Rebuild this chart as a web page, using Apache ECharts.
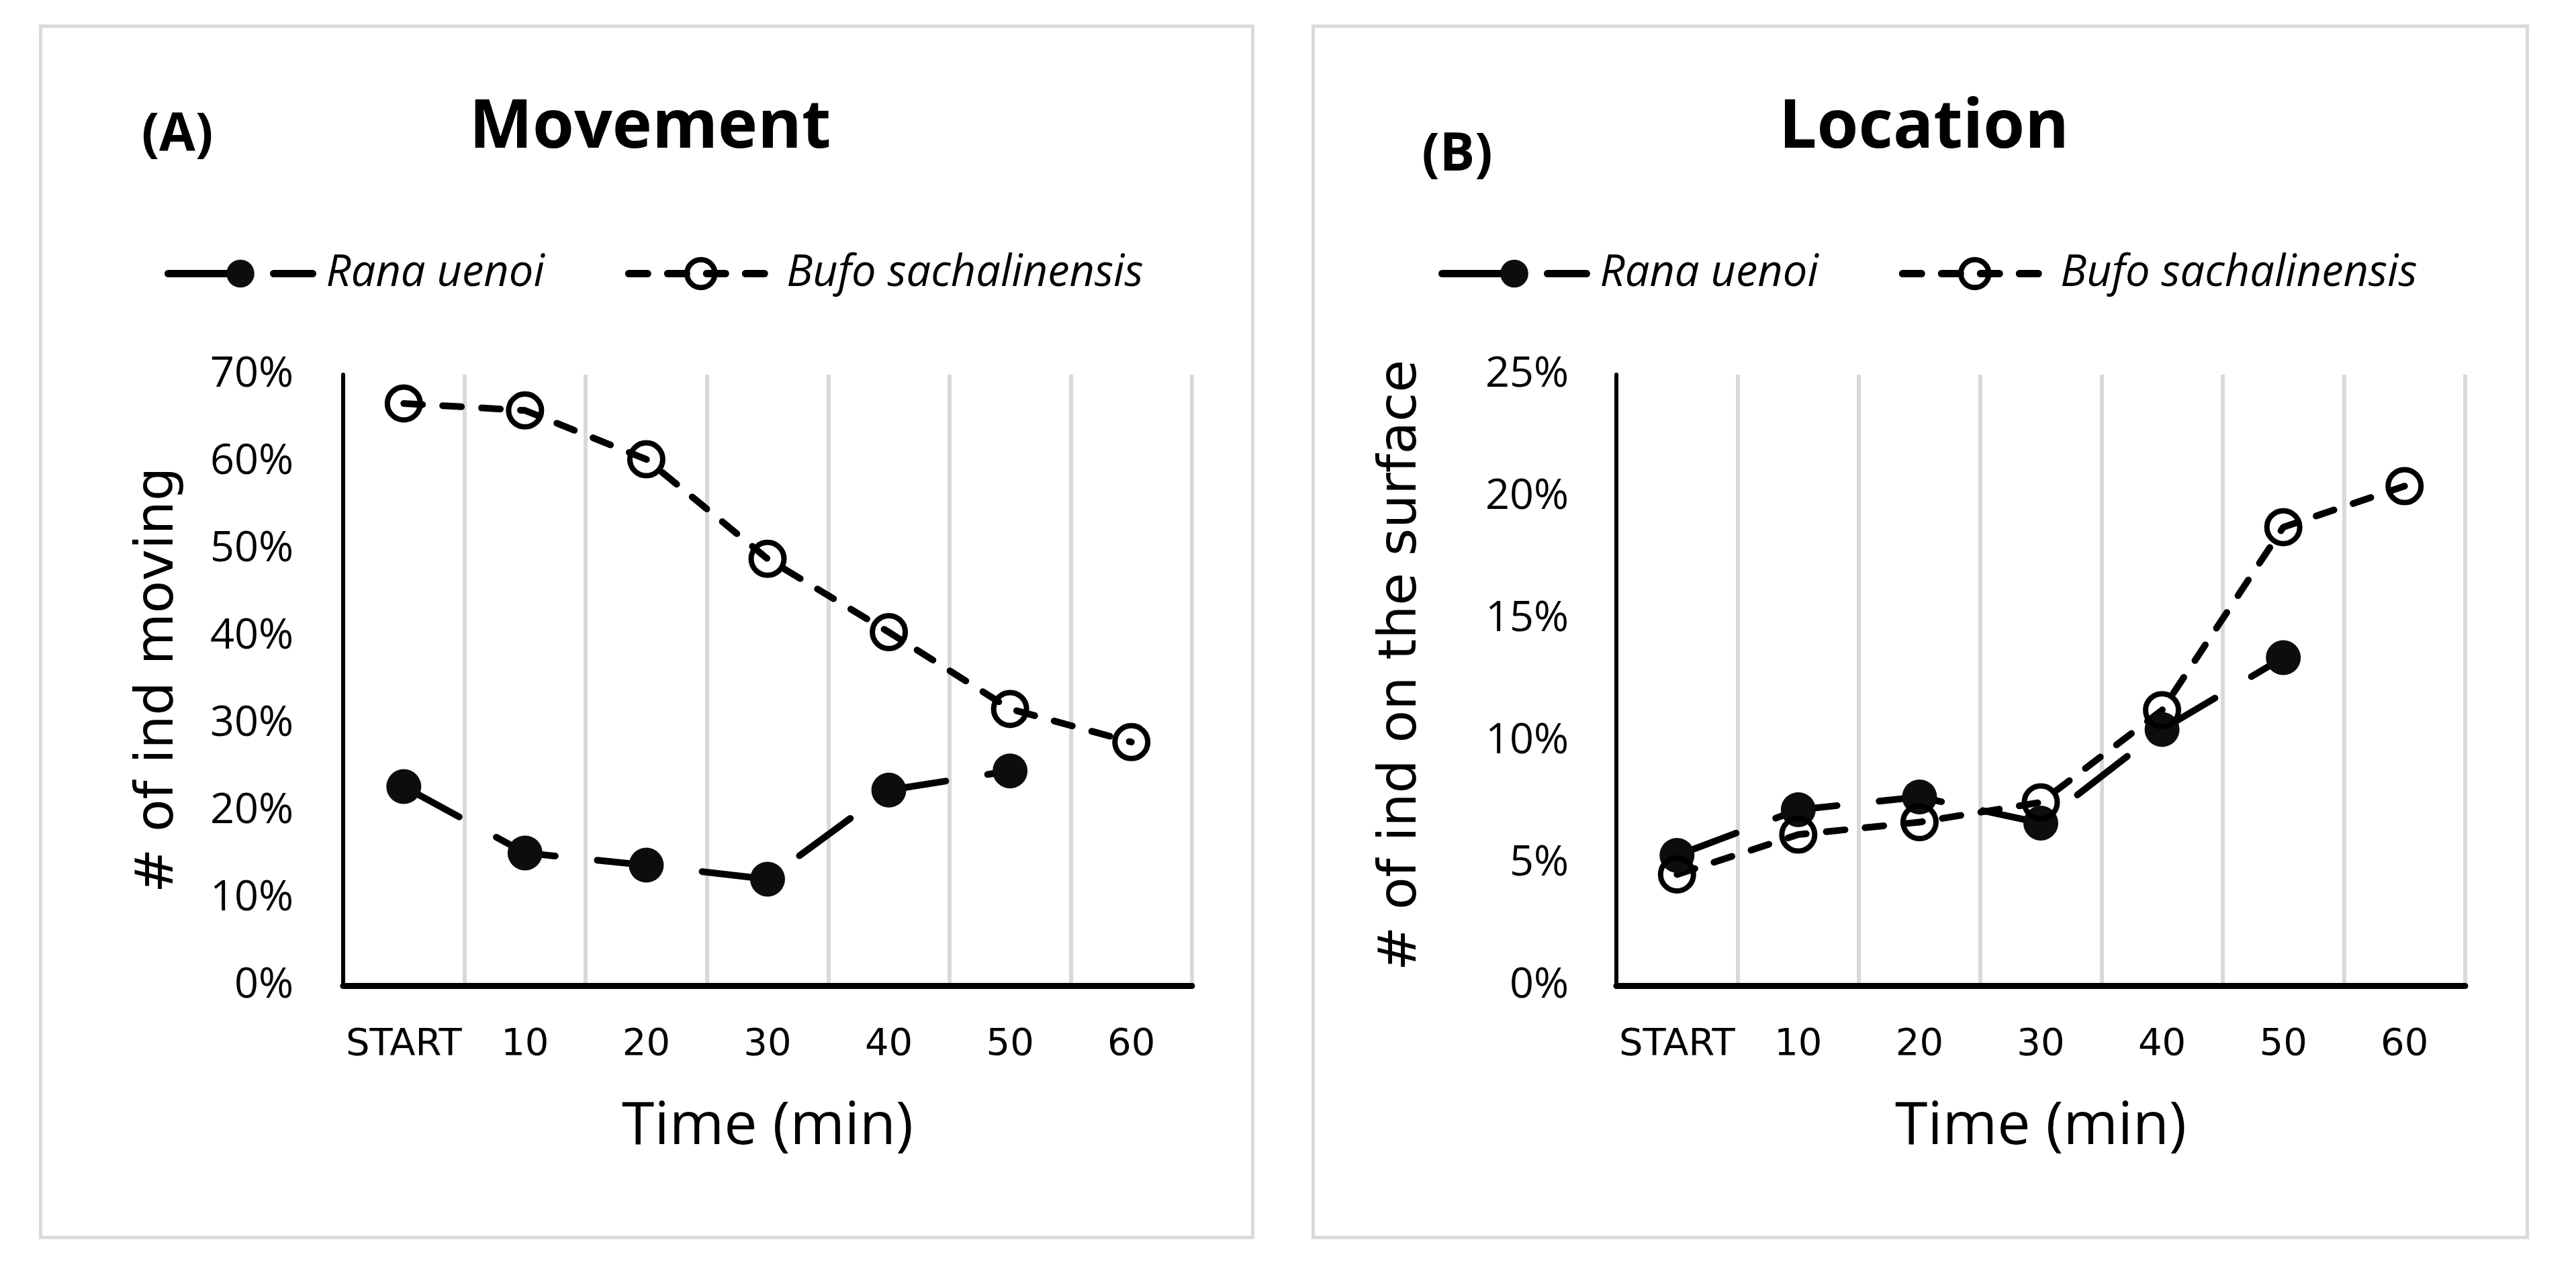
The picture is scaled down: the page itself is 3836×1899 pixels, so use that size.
<!DOCTYPE html>
<html>
<head>
<meta charset="utf-8">
<script src="https://cdn.jsdelivr.net/npm/echarts@6/dist/echarts.min.js"></script>
<style>
html,body{margin:0;padding:0;background:#fff;}
#chart{width:3836px;height:1899px;}
</style>
</head>
<body>
<div id="chart"></div>
<script>
// ---- data ----
const categories = ['START', '10', '20', '30', '40', '50', '60'];
const seriesNames = ['Rana uenoi', 'Bufo sachalinensis'];
// Panel A: Movement (% of individuals moving)
const ranaMovement = [22.8, 15.2, 13.8, 12.2, 22.4, 24.6, null];
const bufoMovement = [66.7, 65.9, 60.3, 48.9, 40.5, 31.7, 27.9];
// Panel B: Location (% of individuals on the surface)
const ranaLocation = [5.33, 7.2, 7.72, 6.65, 10.48, 13.42, null];
const bufoLocation = [4.55, 6.18, 6.69, 7.5, 11.27, 18.76, 20.44];
// axis ranges
const movementAxis = {min: 0, max: 70, interval: 10};
const locationAxis = {min: 0, max: 25, interval: 5};
const panelTitles = ['Movement', 'Location'];
const panelLetters = ['(A)', '(B)'];
const xAxisTitle = 'Time (min)';
const yAxisTitles = ['# of ind moving', '# of ind on the surface'];

// ---- styles ----
const GRID_TOP = 558, GRID_H = 910, GRID_W = 1264;
const gridLefts = [511, 2407];

function xAxis(i) {
  return {
    type: 'category', gridIndex: i, data: categories, boundaryGap: true,
    axisLine: {show: true, lineStyle: {color: '#000', width: 9}},
    axisTick: {show: false},
    axisLabel: {color: '#000', fontFamily: 'DejaVu Sans', fontSize: 56, margin: 60, interval: 0},
    splitLine: {show: true, lineStyle: {color: '#d9d9d9', width: 6}},
    name: xAxisTitle, nameLocation: 'middle', nameGap: 167,
    nameTextStyle: {color: '#000', fontFamily: 'Open Sans', fontSize: 88}
  };
}
function yAxis(i, rng, gap, labelMargin, pad) {
  return {
    type: 'value', gridIndex: i, min: rng.min, max: rng.max, interval: rng.interval,
    axisLine: {show: true, lineStyle: {color: '#000', width: 6}},
    axisTick: {show: false},
    splitLine: {show: false},
    axisLabel: {color: '#000', fontFamily: 'Open Sans', fontSize: 63, margin: labelMargin, formatter: '{value}%'},
    name: yAxisTitles[i], nameLocation: 'middle', nameRotate: 90, nameGap: gap,
    nameTextStyle: {color: '#000', fontFamily: 'DejaVu Sans', fontSize: 79, padding: pad}
  };
}
function ranaSeries(i, data) {
  return {
    name: seriesNames[0], type: 'line', xAxisIndex: i, yAxisIndex: i, data: data,
    symbol: 'circle', symbolSize: 52, connectNulls: false,
    itemStyle: {color: '#0d0d0d'},
    lineStyle: {color: '#000', width: 10, type: [94, 63], cap: 'round'},
    emphasis: {disabled: true}
  };
}
function bufoSeries(i, data) {
  return {
    name: seriesNames[1], type: 'line', xAxisIndex: i, yAxisIndex: i, data: data,
    symbol: 'circle', symbolSize: 49,
    itemStyle: {color: 'rgba(255,255,255,0)', borderColor: '#000', borderWidth: 8},
    lineStyle: {color: '#000', width: 10, type: [28, 30], cap: 'round'},
    emphasis: {disabled: true}
  };
}
function legend(left) {
  return {
    left: left, top: 370, itemWidth: 215, itemHeight: 52, itemGap: 120,
    selectedMode: false,
    data: [
      {name: seriesNames[0], itemStyle: {color: '#0d0d0d', borderWidth: 0},
       lineStyle: {color: '#000', width: 11, type: [94, 63], cap: 'round'}},
      {name: seriesNames[1], itemStyle: {color: 'rgba(255,255,255,0)', borderColor: '#000', borderWidth: 8},
       lineStyle: {color: '#000', width: 11, type: [28, 30], cap: 'round'}}
    ],
    textStyle: {color: '#000', fontFamily: 'Open Sans', fontStyle: 'italic', fontSize: 65, padding: [0, 0, 0, 15]}
  };
}

const chart = echarts.init(document.getElementById('chart'), null, {renderer: 'canvas'});
chart.setOption({
  animation: false,
  backgroundColor: '#fff',
  graphic: [
    {type: 'rect', shape: {x: 60.5, y: 39, width: 1805, height: 1804}, style: {fill: 'none', stroke: '#d9d9d9', lineWidth: 5}, silent: true},
    {type: 'rect', shape: {x: 1955.5, y: 39, width: 1808, height: 1804}, style: {fill: 'none', stroke: '#d9d9d9', lineWidth: 5}, silent: true}
  ],
  title: [
    {text: panelTitles[0], left: 963, top: 137, textAlign: 'center', textStyle: {color: '#000', fontFamily: 'Open Sans', fontWeight: 'bold', fontSize: 100}},
    {text: panelTitles[1], left: 2860, top: 137, textAlign: 'center', textStyle: {color: '#000', fontFamily: 'Open Sans', fontWeight: 'bold', fontSize: 100}},
    {text: panelLetters[0], left: 259, top: 158, textAlign: 'center', textStyle: {color: '#000', fontFamily: 'Open Sans', fontWeight: 'bold', fontSize: 78}},
    {text: panelLetters[1], left: 2165, top: 188, textAlign: 'center', textStyle: {color: '#000', fontFamily: 'Open Sans', fontWeight: 'bold', fontSize: 78}}
  ],
  legend: [legend(240), legend(2137)],
  grid: [
    {left: gridLefts[0], top: GRID_TOP, width: GRID_W, height: GRID_H},
    {left: gridLefts[1], top: GRID_TOP, width: GRID_W, height: GRID_H}
  ],
  xAxis: [xAxis(0), xAxis(1)],
  yAxis: [yAxis(0, movementAxis, 235, 74, [0, 0, 0, 0]), yAxis(1, locationAxis, 280, 71, [0, 0, 0, 44])],
  series: [
    ranaSeries(0, ranaMovement), bufoSeries(0, bufoMovement),
    ranaSeries(1, ranaLocation), bufoSeries(1, bufoLocation)
  ]
});
</script>
</body>
</html>
